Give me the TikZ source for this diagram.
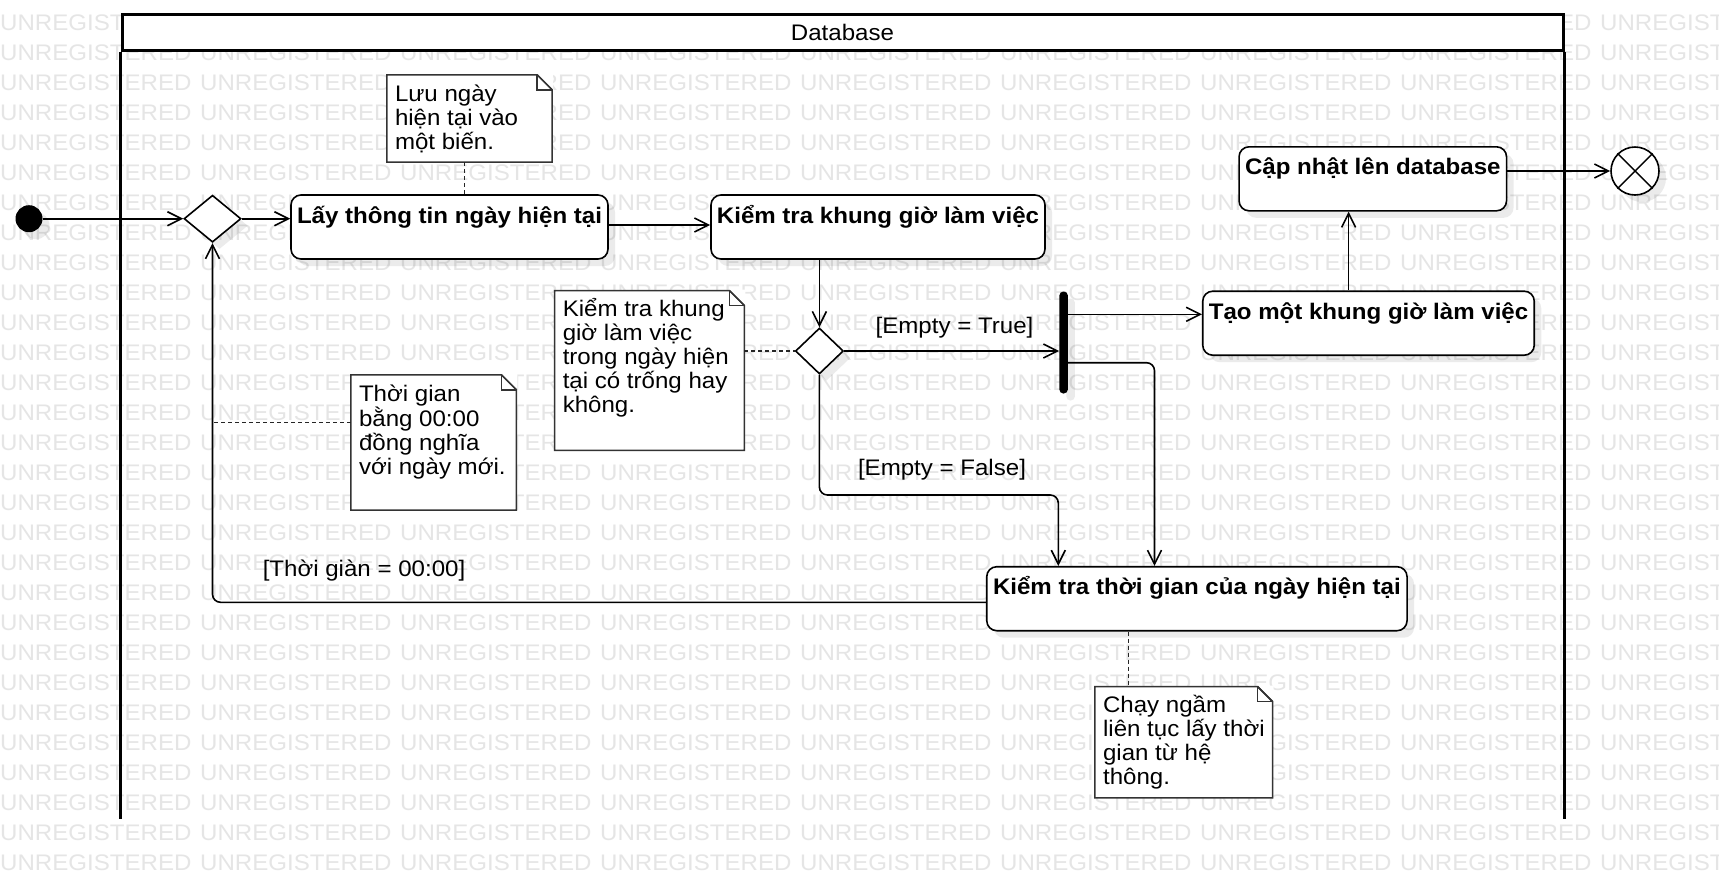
\documentclass[tikz,border=0pt]{standalone}
\usepackage{fontspec}
\setmainfont{Liberation Sans}[FakeStretch=1.07]
\usetikzlibrary{arrows.meta,shapes.geometric,shadows,calc}
\newcommand\diagfont{\fontsize{22.5}{24}\selectfont}
\newcommand\notetext[3]{\parbox[c][#2][t]{#1}{\raggedright\leftskip=8pt\rule{0pt}{26pt}#3}}
\newcommand\foldnote[1]{%
  \draw[notedraw] (#1.north west) -- ([xshift=-15pt]#1.north east) -- ([yshift=-15pt]#1.north east) -- (#1.south east) -- (#1.south west) -- cycle;
  \fill[white] ([xshift=-14pt,yshift=1pt]#1.north east) -- ([xshift=1pt,yshift=1pt]#1.north east) -- ([xshift=1pt,yshift=-14pt]#1.north east) -- cycle;
  \draw[notedraw] ([xshift=-15pt]#1.north east) -- ([xshift=-15pt,yshift=-15pt]#1.north east) -- ([yshift=-15pt]#1.north east);
  \draw[notedraw] ([xshift=-15pt]#1.north east) -- ([yshift=-15pt]#1.north east);}
\begin{document}
\begin{tikzpicture}[x=1pt,y=-1pt,
  every node/.style={font=\diagfont},
  wm/.style={text=black!10, inner sep=0pt, anchor=base west},
  shadowed/.style={drop shadow={shadow xshift=7pt, shadow yshift=-7pt, fill=black, opacity=0.08}},
  act/.style={draw=black, line width=1.6pt, fill=white, rounded corners=10pt, inner sep=0pt,
     minimum height=64pt, text height=20pt, text depth=28pt, font=\diagfont\bfseries, shadowed},
  note/.style={fill=white, inner sep=0pt},
  notedraw/.style={draw=black!80, line width=1.5pt},
  dec/.style={diamond, draw=black, line width=1.6pt, fill=white, inner sep=0pt, shadowed},
  flow/.style={line width=1.6pt, -{Straight Barb[length=14pt,width=14pt]}},
  roundbend/.style={rounded corners=8pt},
  notelink/.style={line width=1.4pt, dash pattern=on 4pt off 3pt, draw=black!85},
  guard/.style={inner sep=0pt},
  lane/.style={line width=3pt, draw=black}]
\useasboundingbox (0,0) rectangle (1719,879);
\fill[white] (0,0) rectangle (1719,879);
% watermark
\foreach \r in {0,...,28}{
  \foreach \c in {0,...,8}{
    \node[wm] (wm-\r-\c) at (200*\c, 30+30*\r) {UNREGISTERED};
  }
}
% swimlane
\node[lane, fill=white, minimum width=1441pt, minimum height=36pt, inner sep=0pt] (lane) at (842.5,32.7) {Database};
\draw[lane] (lane.south west) -- ++(0,766.3);
\draw[lane] (lane.south east) -- ++(0,766.3);

% nodes
\node[circle, fill=black, minimum size=27pt, inner sep=0pt, shadowed] (init) at (29,218.7) {};
\node[dec, minimum width=57pt, minimum height=47pt] (d1) at (212.5,218.7) {};
\node[act, minimum width=317pt] (lay) at (449.5,227) {Lấy thông tin ngày hiện tại};
\node[act, minimum width=334pt] (kiem) at (878,227) {Kiểm tra khung giờ làm việc};
\node[dec, minimum width=48pt, minimum height=46pt] (d2) at (819.4,351) {};
\node[fill=black, rounded corners=4pt, minimum width=8.5pt, minimum height=102pt, inner sep=0pt, shadowed] (bar) at (1063.6,342.5) {};
\node[act, minimum width=331.5pt] (tao) at (1368.5,323.2) {Tạo một khung giờ làm việc};
\node[act, minimum width=267.5pt] (cap) at (1372.8,178.8) {Cập nhật lên database};
\node[circle, draw=black, line width=1.6pt, fill=white, minimum size=48pt, inner sep=0pt, shadowed] (fin) at (1635,171) {};
\draw[line width=1.4pt] (fin.north west) -- (fin.south east) (fin.north east) -- (fin.south west);
\node[act, minimum width=420.3pt] (k3) at (1196.9,598.7) {Kiểm tra thời gian của ngày hiện tại};

% notes
\node[note] (n1) at (469.5,118.5) {\notetext{165pt}{87pt}{Lưu ngày\\hiện tại vào\\một biến.}};
\foldnote{n1}
\node[note] (n2) at (649.5,370.4) {\notetext{189.5pt}{159.3pt}{Kiểm tra khung\\giờ làm việc\\trong ngày hiện\\tại có trống hay\\không.}};
\foldnote{n2}
\node[note] (n3) at (433.6,442.5) {\notetext{165.2pt}{135pt}{Thời gian\\bằng 00:00\\đồng nghĩa\\với ngày mới.}};
\foldnote{n3}
\node[note] (n4) at (1183.7,742.2) {\notetext{177.3pt}{111pt}{Chạy ngầm\\liên tục lấy thời\\gian từ hệ\\thông.}};
\foldnote{n4}

% guards
\node[guard] (g1) at (954.5,327.5) {[Empty = True]};
\node[guard] (g2) at (942,470) {[Empty = False]};
\node[guard] (g3) at (364,570.7) {[Thời giàn = 00:00]};

% connectors
\coordinate (f1) at (1058.3,495);
\draw[flow] (init.east) -- (d1.west);
\draw[flow] (d1.east) -- (d1.east -| lay.west);
\draw[flow] ([yshift=2pt]lay.east) -- ([yshift=2pt]lay.east -| kiem.west);
\draw[flow] (d2.north |- kiem.south) -- (d2.north);
\draw[flow] (d2.east) -- (d2.east -| bar.west);
\draw[flow] ([yshift=28.2pt]bar.east) -- ([yshift=28.2pt]bar.east -| tao.west);
\draw[flow, roundbend] ([yshift=-20.2pt]bar.east) -| ([xshift=-42.4pt]k3.north);
\draw[flow, roundbend] (d2.south) |- (f1) -- (f1 |- k3.north);
\draw[flow, roundbend] ([yshift=-3.6pt]k3.west) -| (d1.south);
\draw[flow] ([xshift=-19.9pt]tao.north) -- ([xshift=-19.9pt]tao.north |- cap.south);
\draw[flow] (fin.west -| cap.east) -- (fin.west);

% note links
\draw[notelink] ([xshift=-5.2pt]n1.south) -- ([xshift=-5.2pt]n1.south |- lay.north);
\draw[notelink] (d2.west -| n2.east) -- (d2.west);
\draw[notelink] ([yshift=20.2pt]n3.west) -- ([yshift=20.2pt]n3.west -| d1.south);
\draw[notelink] ([xshift=-68.5pt]k3.south) -- ([xshift=-68.5pt]k3.south |- n4.north);
\end{tikzpicture}
\end{document}
